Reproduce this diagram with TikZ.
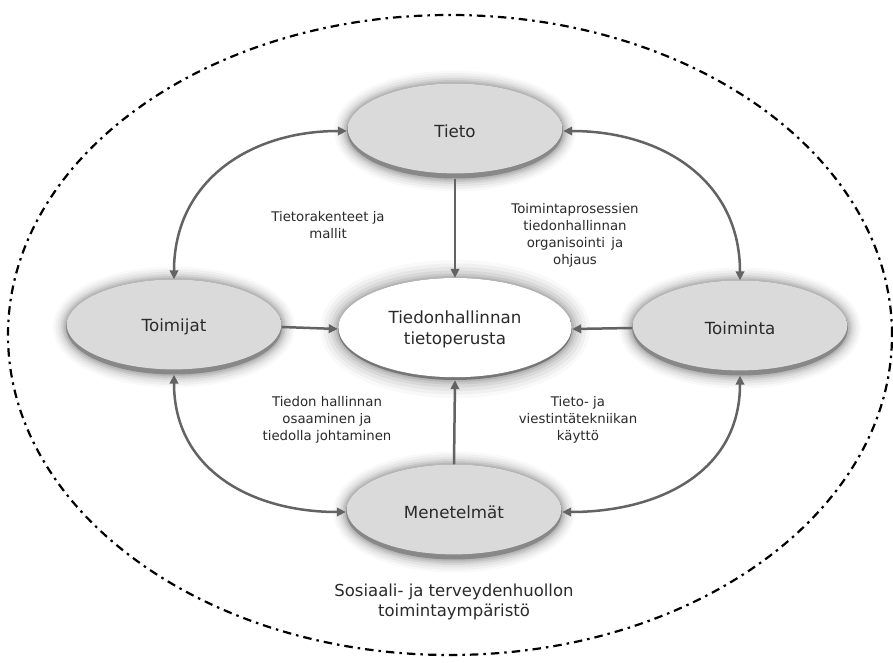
\documentclass[tikz,border=0pt]{standalone}
\usepackage{fontspec}
\setmainfont{DejaVu Sans}
\usetikzlibrary{shapes.geometric,arrows.meta}

\definecolor{bubblefill}{HTML}{DADADA}
\definecolor{bubblerim}{HTML}{888888}
\definecolor{hubrim}{HTML}{767676}
\definecolor{linkgray}{HTML}{636363}
\definecolor{inktext}{HTML}{2A2A2A}

\tikzset{
  % soft grey glow around the bubbles
  halo/.style={
    preaction={draw=black,opacity=0.025,line width=26pt},
    preaction={draw=black,opacity=0.035,line width=21pt},
    preaction={draw=black,opacity=0.045,line width=16pt},
    preaction={draw=black,opacity=0.06,line width=11pt},
    preaction={draw=black,opacity=0.07,line width=7pt},
    preaction={draw=black,opacity=0.08,line width=3.5pt}},
  hubhalo/.style={
    preaction={draw=black,opacity=0.025,line width=36pt},
    preaction={draw=black,opacity=0.035,line width=29pt},
    preaction={draw=black,opacity=0.045,line width=22pt},
    preaction={draw=black,opacity=0.055,line width=15pt},
    preaction={draw=black,opacity=0.07,line width=9pt},
    preaction={draw=black,opacity=0.09,line width=4pt}},
  bubble/.style={ellipse, inner sep=0pt, minimum width=216pt, minimum height=95pt,
    halo, fill=bubblerim, text=inktext, font=\fontsize{16.7}{21}\selectfont,
    path picture={\fill[bubblefill] ([yshift=2.8pt]path picture bounding box.center)
      ellipse [x radius=107.3pt, y radius=45.2pt];}},
  hub/.style={ellipse, inner sep=0pt, minimum width=234pt, minimum height=102pt,
    hubhalo, fill=hubrim, text=inktext, align=center,
    font=\fontsize{16.7}{21}\selectfont,
    path picture={\fill[white] ([yshift=1.8pt]path picture bounding box.center)
      ellipse [x radius=116.6pt, y radius=50pt];}},
  caption/.style={text=inktext, align=center, font=\fontsize{13.3}{17}\selectfont},
  envtext/.style={text=inktext, align=center, font=\fontsize{16.5}{20.5}\selectfont},
  link/.style={draw=linkgray, line width=2.5pt, -{Triangle[length=9pt,width=8.5pt]}},
  duallink/.style={draw=linkgray, line width=2.5pt,
    {Triangle[length=9pt,width=8.5pt]}-{Triangle[length=9pt,width=8.5pt]}},
  boundary/.style={draw=black, line width=2.2pt,
    dash pattern=on 8.5pt off 5pt on 2.5pt off 5pt}
}

\begin{document}
\begin{tikzpicture}[x=1pt,y=1pt]
  \fill[white] (0,0) rectangle (893,662);
  \useasboundingbox (0,0) rectangle (893,662);

  % operating environment
  \draw[boundary] (450,327) ellipse [x radius=442pt, y radius=320pt];

  % bubbles
  \node[bubble] (tieto)    at (455,531) {Tieto};
  \node[bubble] (toimijat) at (174,335) {Toimijat};
  \node[bubble] (toiminta) at (740,334) {Toiminta};
  \node[bubble] (menet)    at (454,150) {Menetelmät};
  \node[hub]    (hub)      at (455,333) {Tiedonhallinnan\\tietoperusta};

  % arrows into the knowledge base
  \draw[link] (tieto.south)    -- (hub.north);
  \draw[link] (menet.north)    -- (hub.south);
  \draw[link] (toimijat.east)  -- (hub.west);
  \draw[link] (toiminta.west)  -- (hub.east);

  % connections around the ring
  \draw[duallink] (toimijat.north) to[out=90,in=180,looseness=1.1] (tieto.west);
  \draw[duallink] (toiminta.north) to[out=90,in=0,looseness=1.1] (tieto.east);
  \draw[duallink] (toimijat.south) to[out=-90,in=180,looseness=1.1] (menet.west);
  \draw[duallink] (toiminta.south) to[out=-90,in=0,looseness=1.1] (menet.east);

  % captions
  \node[caption] (c1) at (328,437) {Tietorakenteet ja\\mallit};
  \node[caption] (c2) at (575,427) {Toimintaprosessien\\tiedonhallinnan\\organisointi\, ja\\ohjaus};
  \node[caption] (c3) at (327,242) {Tiedon hallinnan\\osaaminen ja\\tiedolla johtaminen};
  \node[caption] (c4) at (578,242) {Tieto- ja\\viestintätekniikan\\käyttö};

  \node[envtext] (env) at (454,60) {Sosiaali- ja terveydenhuollon\\toimintaympäristö};
\end{tikzpicture}
\end{document}
